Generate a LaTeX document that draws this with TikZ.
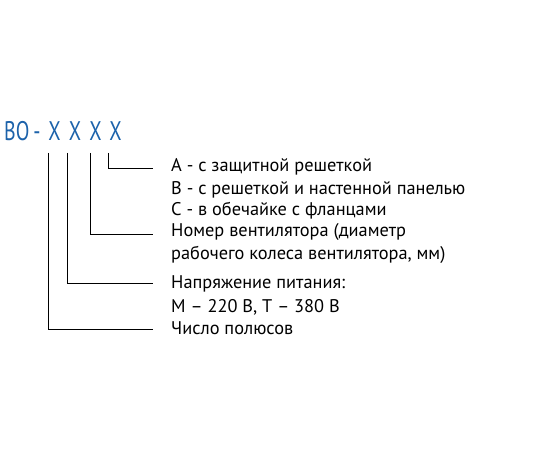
\documentclass[tikz,border=0pt]{standalone}
\usepackage{fontspec}
\setmainfont{PT Sans}
\newfontfamily\headfont[FakeStretch=0.74]{PT Sans}
\usepackage{tikz}

\definecolor{codeblue}{RGB}{28,98,170}

\tikzset{
    codechar/.style={font=\headfont\fontsize{27}{27}\selectfont, text=codeblue, inner sep=0pt, anchor=base},
    legend/.style={font=\fontsize{18.4}{18.4}\selectfont, inner sep=0pt, anchor=base west},
    leader/.style={line width=1pt}
}

\begin{document}
\begin{tikzpicture}[x=1bp, y=-1bp]
        \useasboundingbox (0,0) rectangle (550,450);
        % code
        \node[codechar, anchor=base west] (vo) at (4,141) {ВО};
        \node[codechar] (dash) at (37,141) {-};
        \node[codechar] (x1) at (54.5,141) {X};
        \node[codechar] (x2) at (75,141) {X};
        \node[codechar] (x3) at (95.5,141) {X};
        \node[codechar] (x4) at (115.5,141) {X};
        % texts
        \node[legend] (ta) at (171,172) {А - с защитной решеткой};
        \node[legend] (tb) at (171,195) {В - с решеткой и настенной панелью};
        \node[legend] (tc) at (171,216) {С - в обечайке с фланцами};
        \node[legend] (tn) at (171,237) {Номер вентилятора (диаметр};
        \node[legend] (tn2) at (171,260) {рабочего колеса вентилятора, мм)};
        \node[legend] (tu) at (171,288) {Напряжение питания:};
        \node[legend] (tu2) at (171,312) {М – 220 В, Т – 380 В};
        \node[legend] (tp) at (171,334) {Число полюсов};
        % leaders
        \coordinate (ea) at (153,168);
        \coordinate (en) at (153,234.5);
        \coordinate (eu) at (153,283);
        \coordinate (ep) at (153,329);
        \draw[leader] (108.5,153) |- (ea);
        \draw[leader] (90,153) |- (en);
        \draw[leader] (67.5,153) |- (eu);
        \draw[leader] (48.5,153) |- (ep);
    \end{tikzpicture}
\end{document}
